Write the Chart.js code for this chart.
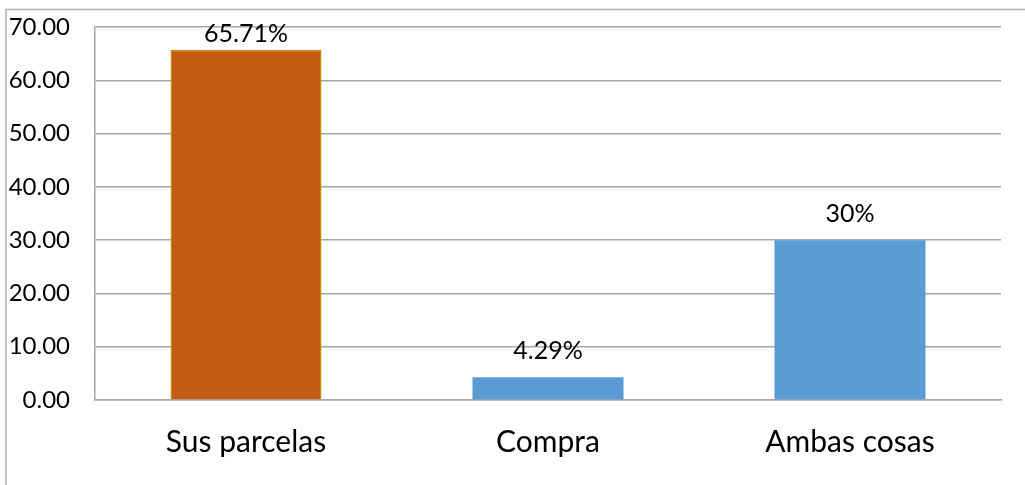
<!DOCTYPE html>
<html>
<head>
<meta charset="utf-8">
<script src="https://cdn.jsdelivr.net/npm/chart.js@4/dist/chart.umd.min.js"></script>
<style>
html,body{margin:0;padding:0;background:#fff;}
#wrap{width:1025px;height:485px;position:relative;}
</style>
</head>
<body>
<div id="wrap"><canvas id="c" width="1025" height="485"></canvas></div>
<script>
const categories = ["Sus parcelas", "Compra", "Ambas cosas"];
const values = [65.71, 4.29, 30];
const valueLabels = ["65.71%", "4.29%", "30%"];
const yTicks = [0, 10, 20, 30, 40, 50, 60, 70];

const FONT = "Lato, 'Open Sans', sans-serif";
const GRID = "#a6a6a6";

const framePlugin = {
  id: "frame",
  beforeDraw(chart) {
    const ctx = chart.ctx;
    ctx.save();
    ctx.strokeStyle = "#b0b0b0";
    ctx.lineWidth = 1.5;
    ctx.beginPath();
    ctx.moveTo(6, 485);
    ctx.lineTo(6, 9.5);
    ctx.lineTo(1025, 9.5);
    ctx.stroke();
    ctx.restore();
  }
};

const labelPlugin = {
  id: "valueLabels",
  afterDatasetsDraw(chart) {
    const ctx = chart.ctx;
    const meta = chart.getDatasetMeta(0);
    ctx.save();
    ctx.font = "25px " + FONT;
    ctx.fillStyle = "#000";
    ctx.textAlign = "center";
    ctx.textBaseline = "alphabetic";
    meta.data.forEach((bar, i) => {
      const y = Math.max(bar.y - 18, chart.chartArea.top + 15);
      ctx.fillText(valueLabels[i], bar.x, y);
    });
    ctx.restore();
  }
};

new Chart(document.getElementById("c"), {
  type: "bar",
  data: {
    labels: categories,
    datasets: [{
      data: values,
      backgroundColor: ["#c55a11", "#5b9bd5", "#5b9bd5"],
      borderColor: ["#bf9000", "#5b9bd5", "#5b9bd5"],
      borderWidth: [1.5, 0, 0],
      categoryPercentage: 1,
      barPercentage: 0.5
    }]
  },
  options: {
    responsive: false,
    animation: false,
    devicePixelRatio: 1,
    layout: { padding: { left: 0, top: 27, right: 24, bottom: 0 } },
    plugins: { legend: { display: false }, tooltip: { enabled: false } },
    scales: {
      x: {
        grid: { display: false, drawTicks: false },
        border: { display: true, color: GRID, width: 1.5 },
        ticks: { color: "#000", font: { family: FONT, size: 30 }, padding: 24, maxRotation: 0 },
        afterFit(s) { s.height = 85; s.paddingLeft = 0; s.paddingRight = 0; }
      },
      y: {
        min: 0,
        max: 70,
        afterBuildTicks(s) { s.ticks = yTicks.map(v => ({ value: v })); },
        grid: { color: GRID, lineWidth: 1.5, drawTicks: false },
        border: { display: true, color: GRID, width: 1.5 },
        ticks: {
          color: "#000",
          font: { family: FONT, size: 24 },
          padding: 25,
          callback: v => Number(v).toFixed(2)
        },
        afterFit(s) { s.width = 95; s.paddingTop = 0; s.paddingBottom = 0; }
      }
    }
  },
  plugins: [framePlugin, labelPlugin]
});
</script>
</body>
</html>
